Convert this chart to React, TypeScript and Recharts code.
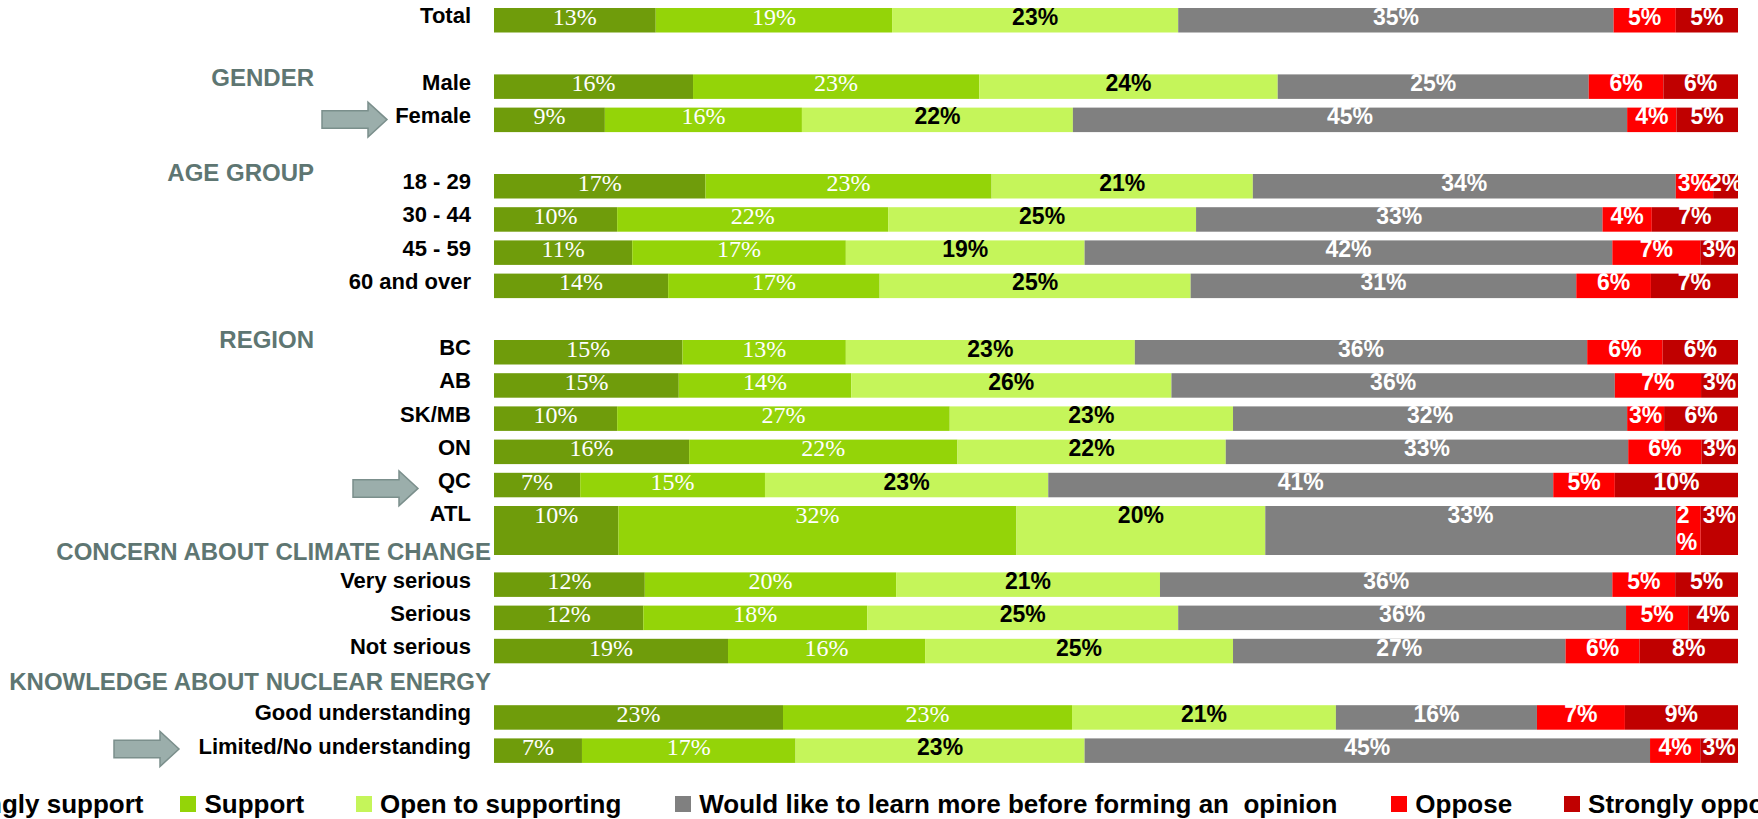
import React from 'react';
import { BarChart, Bar, XAxis, YAxis, LabelList, Legend } from 'recharts';

// ---------- data ----------
const categories = [
  'Total', '', 'Male', 'Female', '', '18 - 29', '30 - 44', '45 - 59', '60 and over', '',
  'BC', 'AB', 'SK/MB', 'ON', 'QC', 'ATL', '', 'Very serious', 'Serious', 'Not serious', '',
  'Good understanding', 'Limited/No understanding',
];
const stronglySupport = [13, null, 16, 9, null, 17, 10, 11, 14, null, 15, 15, 10, 16, 7, 10, null, 12, 12, 19, null, 23, 7];
const support = [19, null, 23, 16, null, 23, 22, 17, 17, null, 13, 14, 27, 22, 15, 32, null, 20, 18, 16, null, 23, 17];
const openToSupporting = [23, null, 24, 22, null, 21, 25, 19, 25, null, 23, 26, 23, 22, 23, 20, null, 21, 25, 25, null, 21, 23];
const learnMore = [35, null, 25, 45, null, 34, 33, 42, 31, null, 36, 36, 32, 33, 41, 33, null, 36, 36, 27, null, 16, 45];
const oppose = [5, null, 6, 4, null, 3, 4, 7, 6, null, 6, 7, 3, 6, 5, 2, null, 5, 5, 6, null, 7, 4];
const stronglyOppose = [5, null, 6, 5, null, 2, 7, 3, 7, null, 6, 3, 6, 3, 10, 3, null, 5, 4, 8, null, 9, 3];

const seriesNames = [
  'Strongly support',
  'Support',
  'Open to supporting',
  'Would like to learn more before forming an  opinion',
  'Oppose',
  'Strongly oppose',
];
const seriesKeys = ['ss', 'sup', 'open', 'learn', 'opp', 'sopp'];
const seriesValues = [stronglySupport, support, openToSupporting, learnMore, oppose, stronglyOppose];

const sectionHeaders = [
  { row: 'Male', text: 'GENDER' },
  { row: '18 - 29', text: 'AGE GROUP' },
  { row: 'BC', text: 'REGION' },
  { row: 'Very serious', text: 'CONCERN ABOUT CLIMATE CHANGE' },
  { row: 'Good understanding', text: 'KNOWLEDGE ABOUT NUCLEAR ENERGY' },
];
const highlightedRows = ['Female', 'QC', 'Limited/No understanding'];
const tallRows = ['ATL'];

// ---------- styles ----------
const seriesColors = ['#6F9C0B', '#94D408', '#C5F55A', '#808080', '#FF0000', '#C00000'];
const labelKinds = ['serif', 'serif', 'dark', 'light', 'light', 'light'];
const legendGaps = [37, 52, 54, 54, 52, 0];
const SANS = '"Liberation Sans", Arial, Helvetica, sans-serif';
const SERIF = '"Liberation Serif", "Times New Roman", serif';
const HEADER_COLOR = '#5E7672';

const headerLayout: Record<string, { right: number; dy: number }> = {
  'GENDER': { right: 314, dy: -9.7 },
  'AGE GROUP': { right: 314, dy: -13.7 },
  'REGION': { right: 314, dy: -13 },
  'CONCERN ABOUT CLIMATE CHANGE': { right: 491, dy: -33.6 },
  'KNOWLEDGE ABOUT NUCLEAR ENERGY': { right: 491, dy: -36 },
};
const arrowLayout: Record<string, { left: number; dy: number }> = {
  'Female': { left: 322, dy: -0.6 },
  'QC': { left: 353, dy: 3 },
  'Limited/No understanding': { left: 114, dy: -2 },
};

const data = categories.map((name, i) => {
  const row: Record<string, any> = { name };
  seriesKeys.forEach((k, s) => {
    row[k] = seriesValues[s][i];
  });
  return row;
});

const arrowPath = (left: number, cy: number) => {
  const body = 8.75;
  const head = 17.5;
  const headStart = left + 46;
  const tip = left + 65;
  return `M ${left} ${cy - body} H ${headStart} V ${cy - head} L ${tip} ${cy} L ${headStart} ${cy + head} V ${cy + body} H ${left} Z`;
};

const CategoryTick = (props: any) => {
  const { x, y, payload } = props;
  const name: string = payload?.value ?? '';
  const header = sectionHeaders.find((h) => h.row === name);
  const hl = header ? headerLayout[header.text] : null;
  const arrow = highlightedRows.includes(name) ? arrowLayout[name] : null;
  return (
    <g>
      {header && hl && (
        <text
          x={hl.right}
          y={y + hl.dy}
          textAnchor="end"
          dominantBaseline="central"
          fontFamily={SANS}
          fontWeight="bold"
          fontSize={24}
          fill={HEADER_COLOR}
        >
          {header.text}
        </text>
      )}
      {arrow && (
        <path d={arrowPath(arrow.left, y + arrow.dy)} fill="#9BAEAB" stroke="#7B8F8C" strokeWidth={1.5} />
      )}
      {name && (
        <text
          x={x}
          y={y - 5}
          textAnchor="end"
          dominantBaseline="central"
          fontFamily={SANS}
          fontWeight="bold"
          fontSize={22}
          fill="#000"
        >
          {name}
        </text>
      )}
    </g>
  );
};

const BarShape = (props: any) => {
  const { x, y, width, height, fill, index, payload } = props;
  if (!width || width <= 0 || !height) return null;
  const name = payload?.name ?? categories[index];
  const h = tallRows.includes(name) ? height * 2 : height;
  return <rect x={x} y={y} width={width} height={h} fill={fill} />;
};

const makeLabel = (kind: string) => (props: any) => {
  const vb = props.viewBox || {};
  const x = props.x ?? vb.x;
  const y = props.y ?? vb.y;
  const width = props.width ?? vb.width;
  const height = props.height ?? vb.height;
  const { value, index } = props;
  if (value == null || value === 0 || x == null) return null;
  const cx = x + width / 2;
  const cy = y + height / 2 - 3.5;
  const isSerif = kind === 'serif';
  const fontSize = isSerif ? 24 : 23;
  const style = {
    fontFamily: isSerif ? SERIF : SANS,
    fontWeight: isSerif ? 'normal' : 'bold',
    fill: kind === 'dark' ? '#000' : '#fff',
    fontSize,
  };
  const text = `${value}%`;
  const approxW = (String(value).length * 0.556 + 0.889) * fontSize;
  const name = categories[index];
  if (tallRows.includes(name) && width < approxW) {
    return (
      <g>
        <text x={x + 1} y={cy} textAnchor="start" dominantBaseline="central" {...style}>
          {String(value)}
        </text>
        <text x={x + 1} y={cy + 27} textAnchor="start" dominantBaseline="central" {...style}>
          %
        </text>
      </g>
    );
  }
  return (
    <text x={cx} y={cy} textAnchor="middle" dominantBaseline="central" {...style}>
      {text}
    </text>
  );
};

const renderLegend = (props: any) => {
  const payload = [...(props.payload || [])].sort(
    (a: any, b: any) => seriesNames.indexOf(a.value) - seriesNames.indexOf(b.value)
  );
  return (
    <div
      style={{
        display: 'flex',
        alignItems: 'center',
        whiteSpace: 'pre',
        height: 30,
        lineHeight: '30px',
        fontFamily: SANS,
        fontWeight: 'bold',
        fontSize: 26,
        color: '#000',
      }}
    >
      {payload.map((p: any, i: number) => (
        <div key={p.value} style={{ display: 'flex', alignItems: 'center', marginRight: legendGaps[i] ?? 52 }}>
          <span style={{ display: 'inline-block', width: 16, height: 16, background: p.color, marginRight: 8 }} />
          <span>{p.value}</span>
        </div>
      ))}
    </div>
  );
};

export default function App() {
  return (
    <div
      style={{
        position: 'absolute',
        left: 0,
        top: 0,
        width: 1758,
        height: 819,
        overflow: 'hidden',
        background: '#fff',
      }}
    >
      <BarChart
        width={1758}
        height={819}
        data={data}
        layout="vertical"
        stackOffset="expand"
        barSize={24.5}
        margin={{ top: 4, right: 20, bottom: 21.4, left: 0 }}
      >
        <XAxis type="number" hide domain={[0, 1]} />
        <YAxis
          type="category"
          dataKey="name"
          width={494}
          axisLine={false}
          tickLine={false}
          tickSize={0}
          tickMargin={23}
          interval={0}
          tick={<CategoryTick />}
        />
        <Legend
          verticalAlign="bottom"
          content={renderLegend}
          wrapperStyle={{ left: -90, top: 789, width: 'max-content', height: 30 }}
        />
        {seriesKeys.map((k, i) => (
          <Bar
            key={k}
            dataKey={k}
            name={seriesNames[i]}
            stackId="a"
            fill={seriesColors[i]}
            isAnimationActive={false}
            shape={BarShape}
          >
            <LabelList dataKey={k} content={makeLabel(labelKinds[i])} />
          </Bar>
        ))}
      </BarChart>
    </div>
  );
}
